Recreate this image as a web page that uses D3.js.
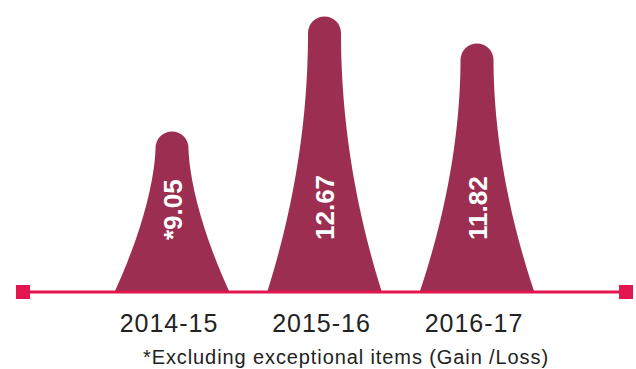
<!DOCTYPE html>
<html>
<head>
<meta charset="utf-8">
<script src="https://cdn.jsdelivr.net/npm/d3@7"></script>
<style>
  body { margin: 0; background: #fff; }
  text { font-family: "Liberation Sans", Arial, Helvetica, sans-serif; }
</style>
</head>
<body>
<script>
const categories = ['2014-15', '2015-16', '2016-17'];
const values = [9.05, 12.67, 11.82];
const valueLabels = ['*9.05', '12.67', '11.82'];
const footnote = '*Excluding exceptional items (Gain /Loss)';

const width = 636, height = 369;
const baseY = 292;

let svg = d3.select('body').append('svg')
    .attr('width', width)
    .attr('height', height);

let x = d3.scaleLinear().domain([0, categories.length - 1]).range([172, 477]);
let y = d3.scaleLinear().domain([4, 13]).range([baseY, 6]);

// bell shaped column: rounded cap, flaring out towards the base
function peakPath(cx, top, base) {
    let r = 16.5, baseHw = 57;
    let yS = top + r, L = base - yS;
    let k = 1.12 + L * 0.0034;
    let hw = t => r + (baseHw - r) * Math.pow(t, k);
    let steps = d3.range(0, 1.0001, 0.025);
    let p = d3.path();
    p.moveTo(cx - hw(1), base);
    steps.slice().reverse().forEach(t => p.lineTo(cx - hw(t), yS + t * L));
    p.arc(cx, yS, r, Math.PI, 2 * Math.PI);
    steps.forEach(t => p.lineTo(cx + hw(t), yS + t * L));
    p.closePath();
    return p.toString();
}

let g = svg.append('g');

g.selectAll('.peak').data(values).enter().append('path')
    .attr('class', 'peak')
    .attr('d', (d, i) => peakPath(x(i), y(d), baseY - 1))
    .style('fill', '#9c2f51');

g.selectAll('.val').data(valueLabels).enter().append('text')
    .attr('class', 'val')
    .attr('transform', (d, i) => 'translate(' + (x(i) + 9.5) + ',240) rotate(-90)')
    .attr('text-anchor', 'start')
    .style('font-size', '26px')
    .style('font-weight', 'bold')
    .style('fill', '#fff')
    .text(d => d);

// baseline with square ends
svg.append('line')
    .attr('x1', 23).attr('x2', 626)
    .attr('y1', baseY).attr('y2', baseY)
    .style('stroke', '#e3154f')
    .style('stroke-width', 3);

svg.selectAll('.cap').data([23, 626]).enter().append('rect')
    .attr('class', 'cap')
    .attr('x', d => d - 7).attr('y', baseY - 7)
    .attr('width', 14).attr('height', 14)
    .style('fill', '#e3154f');

svg.selectAll('.cat').data(categories).enter().append('text')
    .attr('class', 'cat')
    .attr('x', (d, i) => x(i) - 3)
    .attr('y', 332)
    .attr('text-anchor', 'middle')
    .style('font-size', '25px')
    .style('letter-spacing', '1px')
    .style('fill', '#222')
    .text(d => d);

svg.append('text')
    .attr('x', 346).attr('y', 364)
    .attr('text-anchor', 'middle')
    .style('font-size', '20px')
    .style('letter-spacing', '0.9px')
    .style('fill', '#222')
    .text(footnote);
</script>
</body>
</html>
